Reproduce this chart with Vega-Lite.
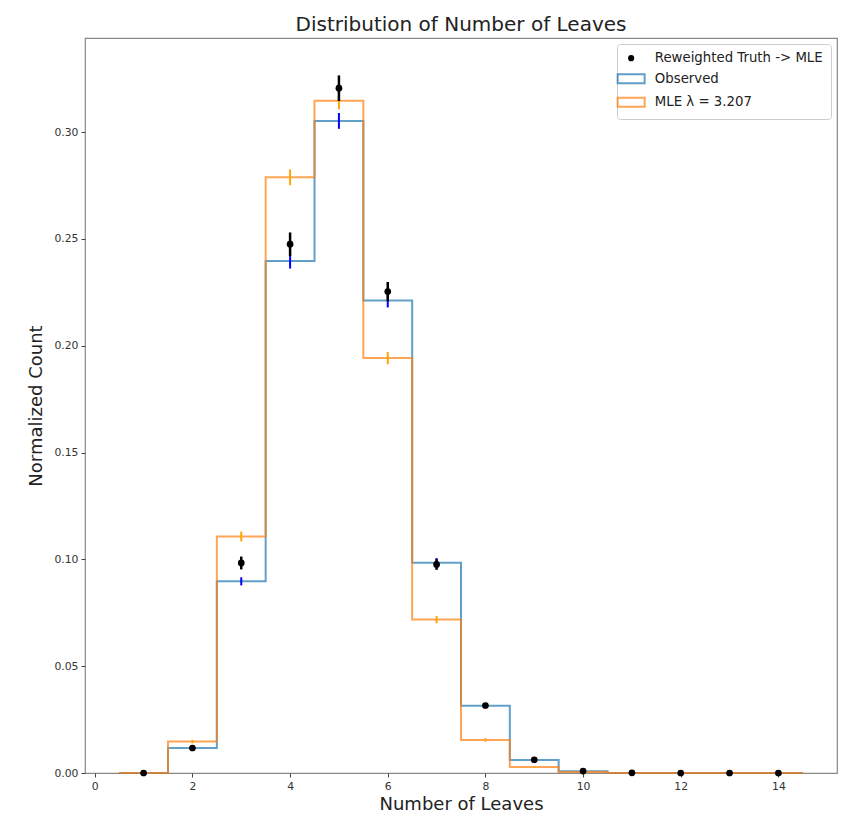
{
  "$schema": "https://vega.github.io/schema/vega-lite/v6.json",
  "autosize": {"type": "none"},
  "width": 752,
  "height": 735,
  "padding": {"left": 85, "top": 38, "right": 21, "bottom": 46},
  "background": "white",
  "title": {"text": "Distribution of Number of Leaves", "font": "DejaVu Sans", "fontSize": 20, "fontWeight": "normal", "color": "#222", "anchor": "middle", "offset": 3},
  "config": {
    "view": {"stroke": "#888", "strokeWidth": 1.2},
    "axis": {"grid": false, "domain": false, "tickColor": "#444", "tickSize": 4, "tickWidth": 1, "labelFont": "DejaVu Sans", "labelFontSize": 10.8, "labelColor": "#333", "titleFont": "DejaVu Sans", "titleFontSize": 18, "titleFontWeight": "normal", "titleColor": "#222"},
    "legend": {"labelFont": "DejaVu Sans", "labelFontSize": 13.3, "labelColor": "#222", "labelLimit": 400}
  },
  "datasets": {
    "steps": [
      {"series": "Observed", "x": 0.5, "y": 0},
      {"series": "Observed", "x": 1.5, "y": 0.0117},
      {"series": "Observed", "x": 2.5, "y": 0.0897},
      {"series": "Observed", "x": 3.5, "y": 0.2396},
      {"series": "Observed", "x": 4.5, "y": 0.3052},
      {"series": "Observed", "x": 5.5, "y": 0.2212},
      {"series": "Observed", "x": 6.5, "y": 0.0984},
      {"series": "Observed", "x": 7.5, "y": 0.0315},
      {"series": "Observed", "x": 8.5, "y": 0.0061},
      {"series": "Observed", "x": 9.5, "y": 0.0008},
      {"series": "Observed", "x": 10.5, "y": 0},
      {"series": "Observed", "x": 11.5, "y": 0},
      {"series": "Observed", "x": 12.5, "y": 0},
      {"series": "Observed", "x": 13.5, "y": 0},
      {"series": "Observed", "x": 14.5, "y": 0},
      {"series": "MLE λ = 3.207", "x": 0.5, "y": 0},
      {"series": "MLE λ = 3.207", "x": 1.5, "y": 0.0147},
      {"series": "MLE λ = 3.207", "x": 2.5, "y": 0.1107},
      {"series": "MLE λ = 3.207", "x": 3.5, "y": 0.2788},
      {"series": "MLE λ = 3.207", "x": 4.5, "y": 0.3146},
      {"series": "MLE λ = 3.207", "x": 5.5, "y": 0.1942},
      {"series": "MLE λ = 3.207", "x": 6.5, "y": 0.0718},
      {"series": "MLE λ = 3.207", "x": 7.5, "y": 0.0155},
      {"series": "MLE λ = 3.207", "x": 8.5, "y": 0.0028},
      {"series": "MLE λ = 3.207", "x": 9.5, "y": 0.0005},
      {"series": "MLE λ = 3.207", "x": 10.5, "y": 0},
      {"series": "MLE λ = 3.207", "x": 11.5, "y": 0},
      {"series": "MLE λ = 3.207", "x": 12.5, "y": 0},
      {"series": "MLE λ = 3.207", "x": 13.5, "y": 0},
      {"series": "MLE λ = 3.207", "x": 14.5, "y": 0}
    ],
    "errs": [
      {"kind": "obs", "x": 2, "lo": 0.0112, "hi": 0.0122},
      {"kind": "obs", "x": 3, "lo": 0.0878, "hi": 0.0916},
      {"kind": "obs", "x": 4, "lo": 0.2361, "hi": 0.2431},
      {"kind": "obs", "x": 5, "lo": 0.3015, "hi": 0.3089},
      {"kind": "obs", "x": 6, "lo": 0.2179, "hi": 0.2245},
      {"kind": "obs", "x": 7, "lo": 0.0962, "hi": 0.1006},
      {"kind": "obs", "x": 8, "lo": 0.0303, "hi": 0.0327},
      {"kind": "obs", "x": 9, "lo": 0.0056, "hi": 0.0066},
      {"kind": "mle", "x": 2, "lo": 0.0139, "hi": 0.0155},
      {"kind": "mle", "x": 3, "lo": 0.1084, "hi": 0.113},
      {"kind": "mle", "x": 4, "lo": 0.2751, "hi": 0.2825},
      {"kind": "mle", "x": 5, "lo": 0.3106, "hi": 0.3186},
      {"kind": "mle", "x": 6, "lo": 0.1913, "hi": 0.1971},
      {"kind": "mle", "x": 7, "lo": 0.0701, "hi": 0.0735},
      {"kind": "mle", "x": 8, "lo": 0.0147, "hi": 0.0163},
      {"kind": "mle", "x": 9, "lo": 0.0025, "hi": 0.0031},
      {"kind": "truth", "x": 2, "lo": 0.0109, "hi": 0.0125},
      {"kind": "truth", "x": 3, "lo": 0.0953, "hi": 0.1013},
      {"kind": "truth", "x": 4, "lo": 0.242, "hi": 0.253},
      {"kind": "truth", "x": 5, "lo": 0.3145, "hi": 0.3265},
      {"kind": "truth", "x": 6, "lo": 0.2208, "hi": 0.2298},
      {"kind": "truth", "x": 7, "lo": 0.0951, "hi": 0.1001},
      {"kind": "truth", "x": 8, "lo": 0.0306, "hi": 0.0326},
      {"kind": "truth", "x": 9, "lo": 0.0057, "hi": 0.0067}
    ],
    "points": [
      {"series": "Reweighted Truth -> MLE", "x": 1, "y": 0},
      {"series": "Reweighted Truth -> MLE", "x": 2, "y": 0.0117},
      {"series": "Reweighted Truth -> MLE", "x": 3, "y": 0.0983},
      {"series": "Reweighted Truth -> MLE", "x": 4, "y": 0.2475},
      {"series": "Reweighted Truth -> MLE", "x": 5, "y": 0.3205},
      {"series": "Reweighted Truth -> MLE", "x": 6, "y": 0.2253},
      {"series": "Reweighted Truth -> MLE", "x": 7, "y": 0.0976},
      {"series": "Reweighted Truth -> MLE", "x": 8, "y": 0.0316},
      {"series": "Reweighted Truth -> MLE", "x": 9, "y": 0.0062},
      {"series": "Reweighted Truth -> MLE", "x": 10, "y": 0.0009},
      {"series": "Reweighted Truth -> MLE", "x": 11, "y": 0.0001},
      {"series": "Reweighted Truth -> MLE", "x": 12, "y": 0},
      {"series": "Reweighted Truth -> MLE", "x": 13, "y": 0},
      {"series": "Reweighted Truth -> MLE", "x": 14, "y": 0}
    ]
  },
  "encoding": {
    "x": {"field": "x", "type": "quantitative", "scale": {"domain": [-0.2, 15.2], "nice": false, "zero": false},
      "axis": {"title": "Number of Leaves", "values": [0, 2, 4, 6, 8, 10, 12, 14], "labelPadding": 3, "titlePadding": 5}}
  },
  "layer": [
    {
      "data": {"name": "steps"},
      "transform": [{"filter": "datum.series === 'Observed'"}],
      "mark": {"type": "line", "interpolate": "step-after", "strokeWidth": 2, "opacity": 0.7},
      "encoding": {
        "y": {"field": "y", "type": "quantitative", "scale": {"domain": [0, 0.344], "nice": false}, "axis": {"title": "Normalized Count", "values": [0, 0.05, 0.1, 0.15, 0.2, 0.25, 0.3], "format": ".2f", "labelPadding": 3, "titlePadding": 8}},
        "color": {"field": "series", "type": "nominal",
          "scale": {"domain": ["Reweighted Truth -> MLE", "Observed", "MLE λ = 3.207"], "range": ["black", "#1f77b4", "#ff7f0e"]},
          "legend": {"title": null, "orient": "top-right", "offset": 6, "padding": 7.5, "rowPadding": 5.5, "symbolSize": 225, "symbolStrokeWidth": 1.5, "labelOffset": 17, "labelLimit": 400, "fillColor": "white", "strokeColor": "#cccccc", "cornerRadius": 3,
            "encoding": {"symbols": {
              "shape": {"value": {"expr": "datum.value === 'Reweighted Truth -> MLE' ? 'circle' : 'M-1.8,-0.6H1.8V0.6H-1.8Z'"}},
              "size": {"value": {"expr": "datum.value === 'Reweighted Truth -> MLE' ? 38 : 225"}},
              "fill": {"value": {"expr": "datum.value === 'Reweighted Truth -> MLE' ? 'black' : 'white'"}},
              "fillOpacity": {"value": {"expr": "datum.value === 'Reweighted Truth -> MLE' ? 1 : 0"}},
              "stroke": {"value": {"expr": "datum.value === 'Reweighted Truth -> MLE' ? 'black' : (datum.value === 'Observed' ? '#1f77b4' : '#ff7f0e')"}},
              "strokeWidth": {"value": {"expr": "datum.value === 'Reweighted Truth -> MLE' ? 0 : 2"}},
              "opacity": {"value": {"expr": "datum.value === 'Reweighted Truth -> MLE' ? 1 : 0.7"}}
            }}}
        }
      }
    },
    {
      "data": {"name": "steps"},
      "transform": [{"filter": "datum.series !== 'Observed'"}],
      "mark": {"type": "line", "interpolate": "step-after", "strokeWidth": 2, "opacity": 0.7},
      "encoding": {
        "y": {"field": "y", "type": "quantitative"},
        "color": {"field": "series", "type": "nominal"}
      }
    },
    {
      "data": {"name": "errs"},
      "transform": [{"filter": "datum.kind === 'obs'"}],
      "mark": {"type": "rule", "color": "blue", "strokeWidth": 2},
      "encoding": {"y": {"field": "lo", "type": "quantitative"}, "y2": {"field": "hi"}}
    },
    {
      "data": {"name": "errs"},
      "transform": [{"filter": "datum.kind === 'mle'"}],
      "mark": {"type": "rule", "color": "orange", "strokeWidth": 2},
      "encoding": {"y": {"field": "lo", "type": "quantitative"}, "y2": {"field": "hi"}}
    },
    {
      "data": {"name": "errs"},
      "transform": [{"filter": "datum.kind === 'truth'"}],
      "mark": {"type": "rule", "color": "black", "strokeWidth": 2.5},
      "encoding": {"y": {"field": "lo", "type": "quantitative"}, "y2": {"field": "hi"}}
    },
    {
      "data": {"name": "points"},
      "mark": {"type": "point", "filled": true, "size": 45, "opacity": 1},
      "encoding": {
        "y": {"field": "y", "type": "quantitative"},
        "color": {"field": "series", "type": "nominal"}
      }
    }
  ]
}
